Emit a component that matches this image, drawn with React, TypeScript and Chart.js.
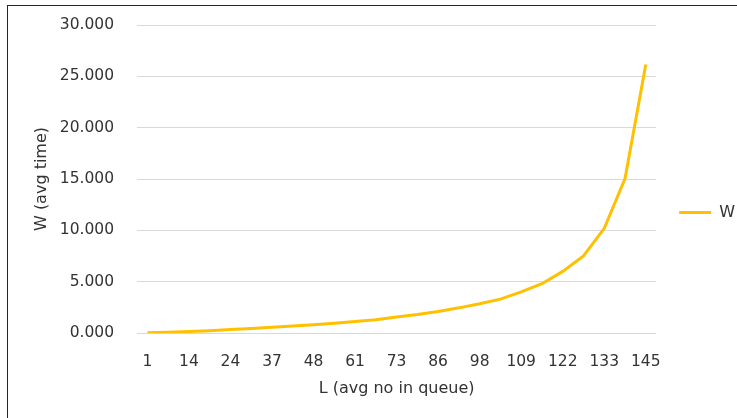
import React, { useEffect, useRef } from 'react';
import { Chart, registerables } from 'chart.js';

Chart.register(...registerables);

// L (avg no in queue) categories; every other one is labelled on the axis
const categories = [
  '1', '8', '14', '19', '24', '31', '37', '43', '48', '55', '61', '67', '73',
  '80', '86', '92', '98', '103', '109', '116', '122', '127', '133', '139', '145',
];

// W (avg time)
const wValues = [
  0.02, 0.08, 0.15, 0.23, 0.33, 0.43, 0.55, 0.68, 0.8, 0.95, 1.12, 1.3, 1.55,
  1.8, 2.1, 2.45, 2.85, 3.3, 4.0, 4.8, 6.0, 7.5, 10.2, 15.05, 26.15,
];

const seriesName = 'W';
const xTitle = 'L (avg no in queue)';
const yTitle = 'W (avg time)';
const yMin = 0;
const yMax = 30;
const yStep = 5;

const FONT = 'DejaVu Sans';
const TEXT = '#333333';

export default function App() {
  const ref = useRef<HTMLCanvasElement>(null);

  useEffect(() => {
    const chart = new Chart(ref.current!, {
      type: 'line',
      data: {
        labels: categories,
        datasets: [
          {
            label: seriesName,
            data: wValues,
            borderColor: '#FFC000',
            backgroundColor: '#FFC000',
            borderWidth: 3,
            pointRadius: 0,
            tension: 0,
            fill: false,
          },
        ],
      },
      options: {
        responsive: false,
        animation: false,
        devicePixelRatio: 1,
        layout: { padding: { left: 32, top: 25, right: -8, bottom: 18 } },
        plugins: {
          legend: {
            position: 'right',
            labels: {
              usePointStyle: true,
              pointStyle: 'line',
              pointStyleWidth: 32,
              color: TEXT,
              font: { family: FONT, size: 16 },
              padding: 23,
            },
          },
          tooltip: { enabled: false },
        },
        scales: {
          x: {
            offset: true,
            grid: { display: false },
            border: { display: false },
            ticks: {
              autoSkip: false,
              maxRotation: 0,
              padding: 12,
              color: TEXT,
              font: { family: FONT, size: 15.5 },
              callback: (_v: any, i: number) => (i % 2 === 0 ? categories[i] : ''),
            },
            title: {
              display: true,
              text: xTitle,
              color: TEXT,
              font: { family: FONT, size: 16 },
              padding: { top: 12, bottom: 2 },
            },
            afterFit: (s: any) => {
              s.height = 67;
            },
          },
          y: {
            min: yMin,
            max: yMax,
            ticks: {
              stepSize: yStep,
              padding: 23,
              color: TEXT,
              font: { family: FONT, size: 15.5 },
              callback: (v: any) => Number(v).toFixed(3),
            },
            grid: { color: '#d9d9d9', drawTicks: false },
            border: { display: false },
            title: {
              display: true,
              text: yTitle,
              color: TEXT,
              font: { family: FONT, size: 16 },
              padding: 0,
            },
            afterFit: (s: any) => {
              s.width = 105;
              s.paddingTop = 0;
              s.paddingBottom = 0;
            },
          },
        },
      },
    });
    return () => chart.destroy();
  }, []);

  return (
    <div
      style={{
        position: 'fixed',
        left: 0,
        top: 0,
        width: 737,
        height: 418,
        background: '#fff',
        overflow: 'hidden',
      }}
    >
      <canvas ref={ref} width={737} height={418} style={{ display: 'block' }} />
      <div
        style={{
          position: 'absolute',
          left: 7,
          top: 5,
          right: -2,
          bottom: -2,
          borderLeft: '1px solid #262626',
          borderTop: '1px solid #262626',
          pointerEvents: 'none',
        }}
      />
    </div>
  );
}
